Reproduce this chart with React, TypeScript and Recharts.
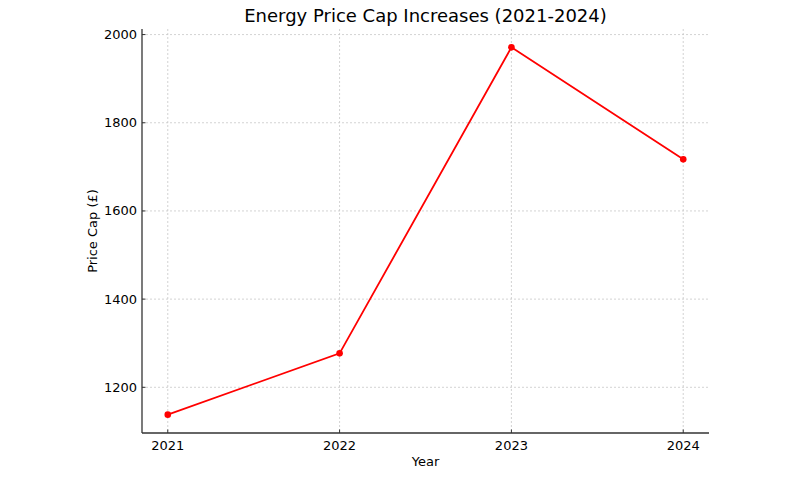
import React from 'react';
import { LineChart, Line, XAxis, YAxis, CartesianGrid } from 'recharts';

const years = [2021, 2022, 2023, 2024];
const priceCap = [1138, 1277, 1971, 1717];
const yTicks = [1200, 1400, 1600, 1800, 2000];

const data = years.map((y, i) => ({ year: y, cap: priceCap[i] }));

const FONT = 'DejaVu Sans, sans-serif';

const applyScale = (axis: any, v: number) => {
  const s = axis && axis.scale;
  if (!s) return NaN;
  if (typeof s === 'function') return s(v);
  if (typeof s.map === 'function') return s.map(v);
  return NaN;
};

const XTick = (props: any) => {
  const { x, y, payload } = props;
  return (
    <g>
      <line x1={x} x2={x} y1={y} y2={y - 3.5} stroke="#333" strokeWidth={1} />
      <text x={x} y={y + 12} textAnchor="middle" dominantBaseline="central" fontFamily={FONT} fontSize={13} fill="#000">
        {payload.value}
      </text>
    </g>
  );
};

const YTick = (props: any) => {
  const { x, y, payload } = props;
  return (
    <g>
      <line x1={x} x2={x + 3.5} y1={y} y2={y} stroke="#333" strokeWidth={1} />
      <text x={x - 5} y={y} textAnchor="end" dominantBaseline="central" fontFamily={FONT} fontSize={13} fill="#000">
        {payload.value}
      </text>
    </g>
  );
};

const XLabel = (props: any) => {
  const vb = props.viewBox || {};
  const cx = (vb.x ?? 142) + (vb.width ?? 567) / 2;
  return (
    <text x={cx} y={461} textAnchor="middle" dominantBaseline="central" fontFamily={FONT} fontSize={13} fill="#000">
      Year
    </text>
  );
};

const YLabel = (props: any) => {
  const vb = props.viewBox || {};
  const cy = (vb.y ?? 29) + (vb.height ?? 404) / 2;
  return (
    <text x={92} y={cy} transform={`rotate(-90 92 ${cy})`} textAnchor="middle" dominantBaseline="central" fontFamily={FONT} fontSize={13} fill="#000">
      Price Cap (£)
    </text>
  );
};

export default function App() {
  return (
    <div style={{ position: 'absolute', left: 0, top: 0, width: 795, height: 477, background: '#fff' }}>
      <div
        style={{
          position: 'absolute',
          left: 142,
          width: 567,
          top: 4,
          textAlign: 'center',
          fontFamily: FONT,
          fontSize: 18,
          color: '#000',
          lineHeight: '24px',
        }}
      >
        Energy Price Cap Increases (2021-2024)
      </div>
      <LineChart width={795} height={477} data={data} margin={{ top: 29, right: 86, bottom: 14, left: 82 }}>
        <CartesianGrid
          stroke="#c8c8c8"
          strokeDasharray="2 2"
          strokeWidth={0.8}
          horizontalCoordinatesGenerator={(p: any) => yTicks.map((t) => applyScale(p.yAxis, t)).filter((v) => !isNaN(v))}
          verticalCoordinatesGenerator={(p: any) => years.map((t) => applyScale(p.xAxis, t)).filter((v) => !isNaN(v))}
        />
        <XAxis
          dataKey="year"
          type="number"
          domain={[2020.85, 2024.15]}
          ticks={years}
          height={30}
          tickSize={0}
          tickMargin={0}
          tickLine={false}
          tick={<XTick />}
          axisLine={{ stroke: '#333', strokeWidth: 1.3 }}
          allowDataOverflow
          label={<XLabel />}
        />
        <YAxis
          type="number"
          domain={[1096.35, 2012.65]}
          ticks={yTicks}
          width={60}
          tickSize={0}
          tickMargin={0}
          tickLine={false}
          tick={<YTick />}
          axisLine={{ stroke: '#333', strokeWidth: 1.3 }}
          allowDataOverflow
          label={<YLabel />}
        />
        <Line
          type="linear"
          dataKey="cap"
          stroke="#ff0000"
          strokeWidth={1.8}
          dot={{ r: 3.3, fill: '#ff0000', stroke: '#ff0000', strokeWidth: 0 }}
          activeDot={false}
          isAnimationActive={false}
        />
      </LineChart>
    </div>
  );
}
